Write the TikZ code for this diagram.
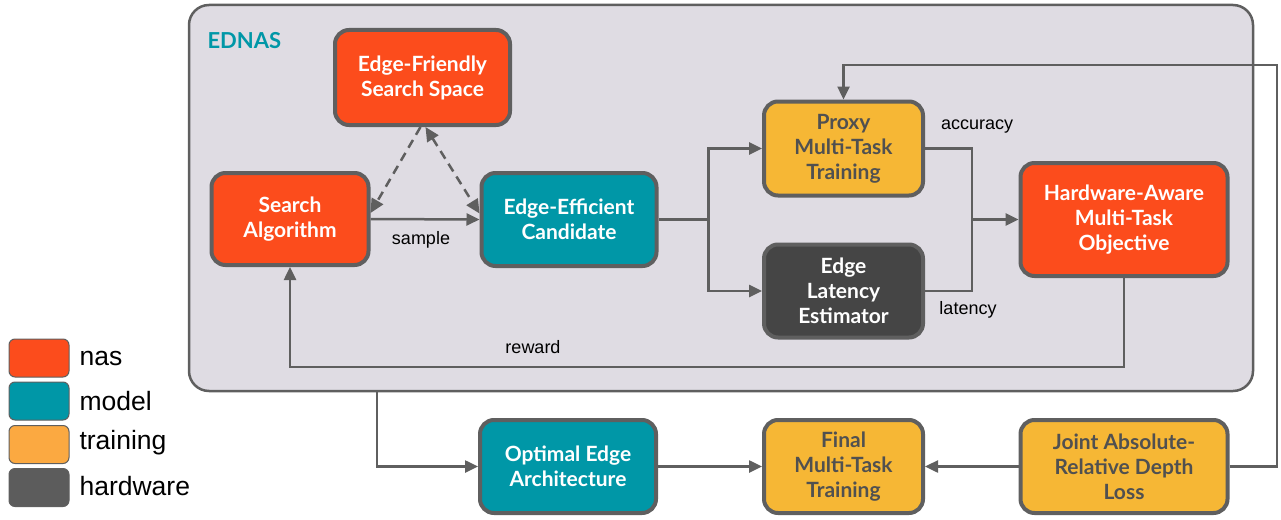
\documentclass[tikz,border=0pt]{standalone}
\usepackage{fontspec}
\setmainfont{Liberation Sans}
\newfontfamily\boxfont{Lato}
\usetikzlibrary{arrows.meta,calc}
\definecolor{nasc}{HTML}{FC4C1C}
\definecolor{modelc}{HTML}{0097A7}
\definecolor{trainc}{HTML}{F6B735}
\definecolor{hwc}{HTML}{454545}
\definecolor{legtrain}{HTML}{FBA941}
\definecolor{leghw}{HTML}{5C5C5C}
\definecolor{edge}{HTML}{5F5F5F}
\definecolor{panel}{HTML}{DFDCE3}
\definecolor{darktxt}{HTML}{505050}
\begin{document}
\begin{tikzpicture}[x=1pt,y=-1pt,
  blk/.style={draw=edge, line width=4pt, rounded corners=14pt, align=center,
    font=\boxfont\bfseries\fontsize{21}{25}\selectfont, inner sep=0pt},
  nasbox/.style={blk, fill=nasc, text=white},
  modbox/.style={blk, fill=modelc, text=white},
  trbox/.style={blk, fill=trainc, text=darktxt},
  hwbox/.style={blk, fill=hwc, text=white},
  conn/.style={draw=edge, line width=2.5pt},
  arr/.style={conn, -{Triangle[length=13pt,width=12pt]}},
  dasharr/.style={conn, dash pattern=on 9pt off 6pt, -{Triangle[length=14pt,width=13pt]}},
  dasharrb/.style={conn, dash pattern=on 9pt off 6pt, {Triangle[length=14pt,width=13pt]}-{Triangle[length=14pt,width=13pt]}},
  lbl/.style={font=\fontsize{18}{20}\selectfont, text=black},
  legsw/.style={draw=edge, line width=1pt, rounded corners=6pt, minimum width=60pt, minimum height=38pt, inner sep=0pt},
  legtxt/.style={font=\fontsize{26.5}{28}\selectfont, anchor=west, text=black}
]
\useasboundingbox (0,0) rectangle (1281,519);

% EDNAS panel
\node[draw=edge, line width=2.5pt, fill=panel, rounded corners=20pt, minimum width=1064pt, minimum height=386pt, inner sep=0pt] (ednas) at (721,198) {};
\node[font=\boxfont\bfseries\fontsize{22}{24}\selectfont, text=modelc, anchor=west] (ednaslbl) at (204,41) {EDNAS};

% blocks
\node[nasbox, minimum width=175pt, minimum height=95pt] (efss) at (422.5,77.5) {Edge-Friendly\\Search Space};
\node[nasbox, minimum width=157pt, minimum height=92pt] (sa) at (290,219) {Search\\Algorithm};
\node[modbox, minimum width=175pt, minimum height=93pt] (ee) at (569,219.5) {Edge-Efficient\\Candidate};
\node[trbox, minimum width=159pt, minimum height=94pt] (proxy) at (843.5,148.5) {Proxy\\Multi-Task\\Training};
\node[hwbox, minimum width=159pt, minimum height=93pt] (lat) at (843.5,291) {Edge\\Latency\\Estimator};
\node[nasbox, minimum width=207pt, minimum height=113pt] (hw) at (1124,219.5) {Hardware-Aware\\Multi-Task\\Objective};
\node[modbox, minimum width=176pt, minimum height=93pt] (opt) at (568,466.5) {Optimal Edge\\Architecture};
\node[trbox, minimum width=159pt, minimum height=93pt] (fin) at (843.5,466.5) {Final\\Multi-Task\\Training};
\node[trbox, minimum width=207pt, minimum height=93pt] (joint) at (1124,466.5) {Joint Absolute-\\Relative Depth\\Loss};

% connectors
\draw[arr] (sa.east) -- (ee.west);
\node[lbl] (samplelbl) at (421,240) {sample};
\draw[dasharr] ([xshift=-2pt]efss.south) -- ([yshift=6pt]sa.east);
\draw[dasharrb] ([xshift=3pt]efss.south) -- ([yshift=6pt]ee.west);

\coordinate (split) at (708.5,219.5);
\draw[conn] (ee.east) -- (split);
\draw[arr] (split) |- (proxy.west);
\draw[arr] (split) |- (lat.west);

\coordinate (merge) at (972,219.5);
\draw[conn] (proxy.east) -| (merge);
\draw[conn] (lat.east) -| (merge);
\draw[arr] (merge) -- (hw.west);
\node[lbl] (acclbl) at (977,127) {accuracy};
\node[lbl] (latlbl) at (968,310) {latency};

\coordinate (rw) at (1124,367);
\draw[arr] (hw.south) -- (rw) -| (sa.south);
\node[lbl] (rewlbl) at (533,347) {reward};

\coordinate (fbr) at (1277,65);
\draw[arr] (joint.east) -| (fbr) -| (proxy.north);

\coordinate (eo) at (377,392);
\draw[arr] (eo) |- (opt.west);
\draw[arr] (opt.east) -- (fin.west);
\draw[arr] (joint.west) -- (fin.east);

% legend
\node[legsw, fill=nasc] (lg1) at (39,358) {};
\node[legsw, fill=modelc] (lg2) at (39,401) {};
\node[legsw, fill=legtrain] (lg3) at (39,444.5) {};
\node[legsw, fill=leghw] (lg4) at (39,487.5) {};
\node[legtxt] (lt1) at (76,358) {nas};
\node[legtxt] (lt2) at (76,401) {model};
\node[legtxt] (lt3) at (76,443) {training};
\node[legtxt] (lt4) at (76,486) {hardware};
\end{tikzpicture}
\end{document}
